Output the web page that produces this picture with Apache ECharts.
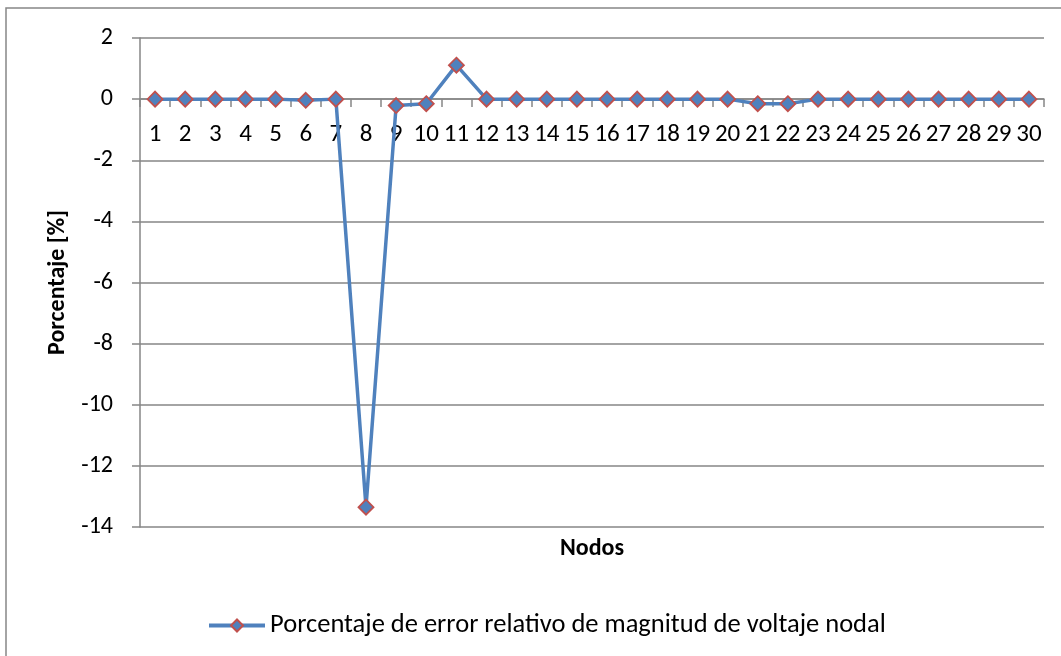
<!DOCTYPE html>
<html>
<head>
<meta charset="utf-8">
<script src="https://cdn.jsdelivr.net/npm/echarts@6/dist/echarts.min.js"></script>
<style>
html,body{margin:0;padding:0;background:#fff;}
#c{width:1061px;height:656px;}
</style>
</head>
<body>
<div id="c"></div>
<script>
const categories = ['1','2','3','4','5','6','7','8','9','10','11','12','13','14','15','16','17','18','19','20','21','22','23','24','25','26','27','28','29','30'];
const values = [0,0,0,0,0,-0.04,0,-13.35,-0.21,-0.15,1.11,0,0,0,0,0,0,0,0,0,-0.15,-0.15,0,0,0,0,0,0,0,0];
const seriesName = 'Porcentaje de error relativo de magnitud de voltaje nodal';
const yTitle = 'Porcentaje [%]';
const xTitle = 'Nodos';

const FONT = 'Carlito, Lato, "Liberation Sans", sans-serif';
const chart = echarts.init(document.getElementById('c'), null, {renderer:'canvas'});
chart.setOption({
  animation:false,
  backgroundColor:'#fff',
  grid:{left:140,right:17,top:38,bottom:129,containLabel:false},
  graphic:[
    {type:'rect',shape:{x:6,y:8,width:1100,height:700},style:{fill:'none',stroke:'#868686',lineWidth:1.5},z:-10},
    {type:'text',x:592,y:549,style:{text:xTitle,font:'bold 24px '+FONT,fill:'#000',align:'center',verticalAlign:'middle'}}
  ],
  legend:{
    data:[seriesName],
    left:202,top:607,
    itemWidth:56,itemHeight:15,itemGap:3,
    lineStyle:{width:4},
    textStyle:{fontFamily:FONT,fontSize:26.5,color:'#000'}
  },
  xAxis:{
    type:'category',data:categories,boundaryGap:true,position:'bottom',offset:-428,
    axisLine:{onZero:false,lineStyle:{color:'#868686',width:1.5}},
    axisTick:{show:true,length:8,lineStyle:{color:'#868686',width:1.5}},
    axisLabel:{margin:23,fontFamily:FONT,fontSize:25,color:'#000',interval:0},
    splitLine:{show:false}
  },
  yAxis:{
    type:'value',min:-14,max:2,interval:2,
    name:yTitle,nameLocation:'middle',nameRotate:90,nameGap:70,
    nameTextStyle:{fontFamily:FONT,fontSize:24,fontWeight:'bold',color:'#000'},
    axisLine:{show:true,lineStyle:{color:'#868686',width:1.5}},
    axisTick:{show:true,length:8,lineStyle:{color:'#868686',width:1.5}},
    axisLabel:{margin:27,fontFamily:FONT,fontSize:24,color:'#000'},
    splitLine:{show:true,lineStyle:{color:'#868686',width:1.5}}
  },
  series:[{
    name:seriesName,type:'line',data:values,
    symbol:'diamond',symbolSize:15,
    lineStyle:{color:'#4F81BD',width:3.5},
    itemStyle:{color:'#4F81BD',borderColor:'#C0504D',borderWidth:1.8}
  }]
});
</script>
</body>
</html>
